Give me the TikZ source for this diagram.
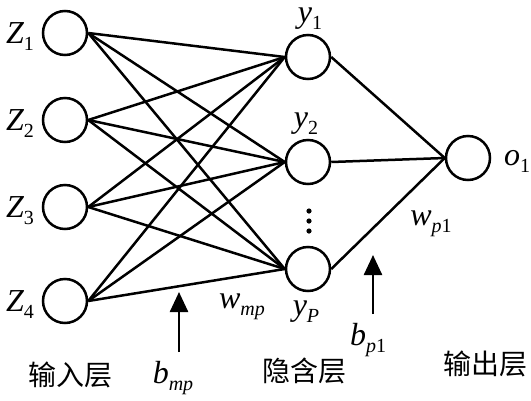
\documentclass[tikz,border=0pt]{standalone}
\usepackage{fontspec}
\setmainfont{Liberation Serif}
\newfontfamily\cjk{Noto Sans CJK SC}
\usetikzlibrary{arrows.meta}
\newcommand{\lab}[2]{{\fontsize{32}{34}\selectfont\itshape #1}\raisebox{-7pt}{\fontsize{20}{22}\selectfont #2}}
\begin{document}
\begin{tikzpicture}[x=1pt,y=-1pt,
  neuron/.style={circle,draw,line width=2.5pt,minimum size=44pt,inner sep=0pt},
  link/.style={line width=2.5pt},
  lbl/.style={inner sep=0pt},
  cjklbl/.style={inner sep=0pt,font=\cjk\fontsize{28}{30}\selectfont},
  bias/.style={line width=2.5pt,-{Triangle[width=18pt,length=20pt]}}]
\useasboundingbox (0,0) rectangle (531,400);
% input layer
\node[neuron] (z1) at (65,33) {};
\node[neuron] (z2) at (65,120) {};
\node[neuron] (z3) at (65,207) {};
\node[neuron] (z4) at (65,301) {};
% hidden layer
\node[neuron] (h1) at (308,57) {};
\node[neuron] (h2) at (308,162) {};
\node[neuron] (hp) at (308,269) {};
% output
\node[neuron] (o1) at (468,158) {};
% connections
\foreach \i in {z1,z2,z3,z4}
  \foreach \j in {h1,h2,hp}
    \draw[link] (\i.east) -- (\j.west);
\foreach \j in {h1,h2,hp}
  \draw[link] (\j.east) -- (o1.west);
% dots
\foreach \yy in {211,221,231}
  \fill (309,\yy) circle (2.6pt);
% labels
\node[lbl] (lz1) at (20,37) {\lab{Z}{1}};
\node[lbl] (lz2) at (20,124) {\lab{Z}{2}};
\node[lbl] (lz3) at (20,211) {\lab{Z}{3}};
\node[lbl] (lz4) at (20,305) {\lab{Z}{4}};
\node[lbl] (ly1) at (310,19) {\lab{y}{1}};
\node[lbl] (ly2) at (306,124) {\lab{y}{2}};
\node[lbl] (lyp) at (306,312) {\lab{y}{\itshape P}};
\node[lbl] (lo1) at (517,161) {\lab{o}{1}};
\node[lbl] (lwmp) at (242,307) {\lab{w}{\itshape mp}};
\node[lbl] (lwp1) at (431,224) {\lab{w}{{\itshape p}1}};
\node[lbl] (lbmp) at (173,378) {\lab{b}{\itshape mp}};
\node[lbl] (lbp1) at (368,340) {\lab{b}{{\itshape p}1}};
% bias arrows
\coordinate (bmps) at (179,352);
\coordinate (bmpe) at (179,292);
\coordinate (bp1s) at (373,314);
\coordinate (bp1e) at (373,255);
\draw[bias] (bmps) -- (bmpe);
\draw[bias] (bp1s) -- (bp1e);
% layer names
\node[cjklbl] (lin) at (70,375) {输入层};
\node[cjklbl] (lhid) at (304,371) {隐含层};
\node[cjklbl] (lout) at (485,364) {输出层};
\end{tikzpicture}
\end{document}
